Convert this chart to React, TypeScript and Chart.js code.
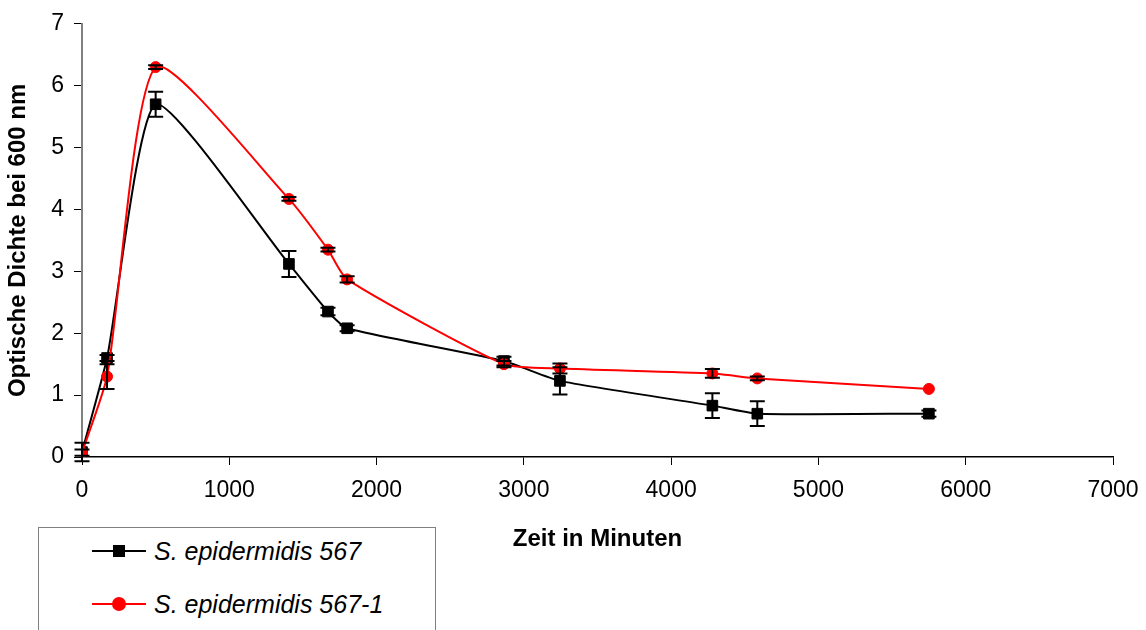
import React, { useEffect, useRef } from "react";
import { Chart, registerables } from "chart.js";

Chart.register(...registerables);

const times = [0, 170, 500, 1405, 1670, 1800, 2865, 3245, 4280, 4585, 5750];
const strain567 = [0.08, 1.6, 5.7, 3.12, 2.35, 2.08, 1.55, 1.23, 0.83, 0.7, 0.7];
const strain567Err = [0.15, 0.05, 0.2, 0.21, 0.06, 0.05, 0.07, 0.22, 0.2, 0.2, 0.05];
const strain5671 = [0.07, 1.3, 6.3, 4.17, 3.35, 2.87, 1.5, 1.43, 1.35, 1.27, 1.1];
const strain5671Err = [0.05, 0.2, 0.03, 0.03, 0.03, 0.05, 0.05, 0.08, 0.07, 0.03, 0.0];
const seriesNames = ["S. epidermidis 567", "S. epidermidis 567-1"];
const xTitle = "Zeit in Minuten";
const yTitle = "Optische Dichte bei 600 nm";

const FONT = "'Liberation Sans', Arial, sans-serif";

const errorBarPlugin = {
  id: "errorBars",
  afterDatasetsDraw(chart: any) {
    const ctx = chart.ctx;
    const yScale = chart.scales.y;
    chart.data.datasets.forEach((ds: any, i: number) => {
      const meta = chart.getDatasetMeta(i);
      const errs: number[] = ds.errors || [];
      meta.data.forEach((pt: any, j: number) => {
        const e = errs[j];
        if (!e) return;
        const v = ds.data[j].y;
        const yTop = yScale.getPixelForValue(v + e);
        const yBot = yScale.getPixelForValue(v - e);
        const x = pt.x;
        ctx.save();
        ctx.strokeStyle = "#000000";
        ctx.lineWidth = 2;
        ctx.beginPath();
        ctx.moveTo(x, yTop);
        ctx.lineTo(x, yBot);
        ctx.moveTo(x - 7.5, yTop);
        ctx.lineTo(x + 7.5, yTop);
        ctx.moveTo(x - 7.5, yBot);
        ctx.lineTo(x + 7.5, yBot);
        ctx.stroke();
        ctx.restore();
      });
    });
  },
};

export default function App() {
  const canvasRef = useRef<HTMLCanvasElement | null>(null);

  useEffect(() => {
    document.body.style.margin = "0";
    const canvas = canvasRef.current;
    if (!canvas) return;
    const chart = new Chart(canvas, {
      type: "line",
      data: {
        datasets: [
          {
            label: seriesNames[0],
            data: times.map((t, i) => ({ x: t, y: strain567[i] })),
            errors: strain567Err,
            borderColor: "#000000",
            backgroundColor: "#000000",
            borderWidth: 2,
            pointStyle: "rect",
            pointRadius: 7.5,
            pointBorderWidth: 1,
            tension: 0.18,
            order: 1,
          } as any,
          {
            label: seriesNames[1],
            data: times.map((t, i) => ({ x: t, y: strain5671[i] })),
            errors: strain5671Err,
            borderColor: "#ff0000",
            backgroundColor: "#ff0000",
            borderWidth: 2,
            pointStyle: "circle",
            pointRadius: 5.5,
            pointBorderWidth: 1,
            tension: 0.2,
            order: 0,
          } as any,
        ],
      },
      options: {
        animation: false,
        responsive: false,
        maintainAspectRatio: false,
        layout: { padding: { left: 0, top: 22, right: 33, bottom: 0 } },
        plugins: {
          legend: { display: false },
          tooltip: { enabled: false },
        },
        scales: {
          x: {
            type: "linear",
            min: 0,
            max: 7000,
            ticks: {
              stepSize: 1000,
              color: "#000000",
              font: { family: FONT, size: 23 },
              padding: 12,
              maxRotation: 0,
              callback: (v: any) => String(v),
            },
            grid: {
              display: true,
              drawOnChartArea: false,
              drawTicks: true,
              tickLength: 8,
              color: "#000000",
              lineWidth: 1,
            },
            border: { display: true, color: "#000000", width: 1.5 },
            title: {
              display: true,
              text: xTitle,
              color: "#000000",
              font: { family: FONT, size: 24, weight: "bold" },
              padding: { top: 4, bottom: 76 },
            },
            afterFit(scale: any) {
              scale.height = 173;
              scale.paddingRight = 0;
              scale.paddingLeft = 0;
            },
          },
          y: {
            type: "linear",
            min: 0,
            max: 7,
            ticks: {
              stepSize: 1,
              color: "#000000",
              font: { family: FONT, size: 23 },
              padding: 10,
              callback: (v: any) => String(v),
            },
            grid: {
              display: true,
              drawOnChartArea: false,
              drawTicks: true,
              tickLength: 8,
              color: "#000000",
              lineWidth: 1,
            },
            border: { display: true, color: "#808080", width: 2 },
            title: {
              display: true,
              text: yTitle,
              color: "#000000",
              font: { family: FONT, size: 24, weight: "bold" },
              padding: { top: 4, bottom: 4 },
            },
            afterFit(scale: any) {
              scale.width = 82;
            },
          },
        },
      } as any,
      plugins: [errorBarPlugin],
    });
    return () => chart.destroy();
  }, []);

  const legendRow = (color: string, marker: "rect" | "circle", text: string, top: number) => (
    <div style={{ position: "absolute", left: 0, top, height: 30, width: 390 }}>
      <div
        style={{
          position: "absolute",
          left: 53,
          top: 14,
          width: 54,
          height: 2,
          background: color,
        }}
      />
      <div
        style={{
          position: "absolute",
          left: marker === "rect" ? 74 : 73,
          top: marker === "rect" ? 9 : 8,
          width: marker === "rect" ? 12 : 14,
          height: marker === "rect" ? 12 : 14,
          background: color,
          borderRadius: marker === "circle" ? "50%" : 0,
        }}
      />
      <div
        style={{
          position: "absolute",
          left: 115,
          top: 0,
          fontFamily: FONT,
          fontStyle: "italic",
          fontSize: 25,
          lineHeight: "30px",
          color: "#000000",
          whiteSpace: "nowrap",
        }}
      >
        {text}
      </div>
    </div>
  );

  return (
    <div style={{ position: "fixed", left: 0, top: 0, width: 1146, height: 630, background: "#ffffff", overflow: "hidden" }}>
      <canvas ref={canvasRef} width={1146} height={630} style={{ position: "absolute", left: 0, top: 0 }} />
      <div
        style={{
          position: "absolute",
          left: 38,
          top: 527,
          width: 396,
          height: 140,
          border: "1.5px solid #808080",
          background: "#ffffff",
        }}
      >
        {legendRow("#000000", "rect", seriesNames[0], 8)}
        {legendRow("#ff0000", "circle", seriesNames[1], 61)}
      </div>
    </div>
  );
}
